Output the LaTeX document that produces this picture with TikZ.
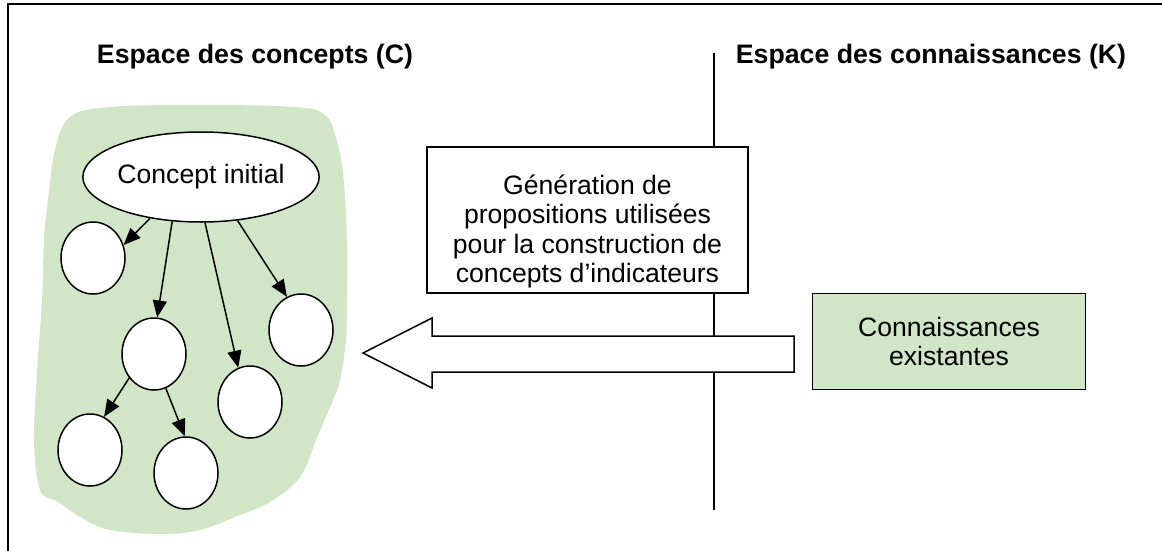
\documentclass[tikz,border=0pt]{standalone}
\usepackage{fontspec}
\setmainfont{Liberation Sans}
\usetikzlibrary{arrows.meta,shapes.geometric}
\definecolor{blobgreen}{RGB}{208,230,199}
\begin{document}
\begin{tikzpicture}[x=1pt,y=-1pt,line width=1.5pt,
  bodyfont/.style={font=\fontsize{26.6}{29.6}\selectfont},
  titlefont/.style={font=\fontsize{26.7}{30}\selectfont\bfseries},
  concept/.style={ellipse,draw,fill=white,minimum width=64pt,minimum height=72pt,inner sep=0pt},
  arr/.style={-{Triangle[length=17pt,width=14pt]},line width=1.5pt},
  boxstyle/.style={draw,inner sep=0pt}]
\useasboundingbox (0,0) rectangle (1162,551);
% frame
\coordinate (ftl) at (8,4);
\coordinate (ftr) at (1162,4);
\coordinate (fbl) at (8,551);
\draw[line width=2pt] (fbl) -- (ftl) -- (ftr);
% titles
\node[titlefont] (tC) at (255,57) {Espace des concepts (C)};
\node[titlefont] (tK) at (931,57) {Espace des connaissances (K)};
% separator line
\coordinate (vtop) at (714,53);
\coordinate (vbot) at (714,510);
\draw (vtop) -- (vbot);
% green blob
\fill[blobgreen] plot[smooth cycle,tension=0.6] coordinates {
 (110,107) (200,105) (295,107) (325,115) (336,138) (343,173) (347,240)
 (347,300) (346,340) (340,380) (333,400) (318,435) (300,477) (270,502)
 (240,515) (200,530) (160,534) (110,530) (82,518) (58,502) (40,490)
 (34,440) (37,373) (42,300) (44,240) (48,200) (55,150) (70,117)};
% concept tree
\node[ellipse,draw,fill=white,minimum width=224pt,minimum height=90pt,inner sep=0pt,bodyfont] (ci) at (201,177) {Concept initial};
\node[concept] (c1) at (93,258) {};
\node[concept] (c2) at (154,354) {};
\node[concept] (c3) at (301,330) {};
\node[concept] (c4) at (250,402) {};
\node[concept] (c5) at (90,450) {};
\node[concept] (c6) at (186,473) {};
\draw[arr] (ci.219) -- (c1.23);
\draw[arr] (ci.237) -- (c2.85);
\draw[arr] (ci.275) -- (c4.109);
\draw[arr] (ci.310) -- (c3.113);
\draw[arr] (c2.224) -- (c5.67);
\draw[arr] (c2.289) -- (c6.92);
% generation box
\node[boxstyle,fill=white,minimum width=321pt,minimum height=146pt] (gen) at (587.5,220) {};
\node[bodyfont,align=center] (gentext) at (587.5,231.5) {Génération de\\propositions utilisées\\pour la construction de\\concepts d’indicateurs};
% big hollow arrow
\draw[fill=white,line join=miter] (794,336) -- (432,336) -- (432,318) -- (363,353) -- (432,388) -- (432,372) -- (794,372) -- cycle;
% existing knowledge box
\node[boxstyle,fill=blobgreen,minimum width=273pt,minimum height=96pt,align=center,bodyfont] (exist) at (949,341.3) {Connaissances\\existantes};
\end{tikzpicture}
\end{document}
